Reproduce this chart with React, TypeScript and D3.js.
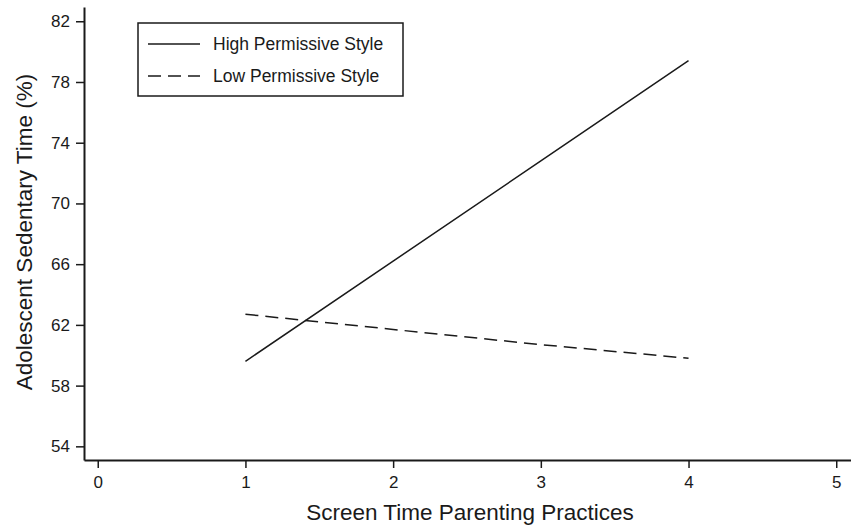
import { useEffect, useRef } from "react";
import * as d3 from "d3";

const xValues = [1, 2, 3, 4];
const highPermissive = [59.6, 66.2, 72.8, 79.4];
const lowPermissive = [62.7, 61.7, 60.7, 59.8];
const xTicks = [0, 1, 2, 3, 4, 5];
const yTicks = [54, 58, 62, 66, 70, 74, 78, 82];

const seriesList = [
  { label: "High Permissive Style", values: highPermissive, dash: null },
  { label: "Low Permissive Style", values: lowPermissive, dash: "13 7" },
];

const WIDTH = 851;
const HEIGHT = 529;
const FONT = "'Liberation Sans', Arial, sans-serif";
const INK = "#1a1a1a";

export default function App() {
  const svgRef = useRef<SVGSVGElement | null>(null);

  useEffect(() => {
    const svgElement = svgRef.current;
    if (!svgElement) return;

    const svg = d3.select(svgElement);
    svg.selectAll("*").remove();

    const margin = { top: 7, right: 0, bottom: 69, left: 84 };

    const x = d3
      .scaleLinear()
      .domain([-0.093, 5.1])
      .range([margin.left, WIDTH - margin.right]);

    const y = d3
      .scaleLinear()
      .domain([53.1, 82.94])
      .range([HEIGHT - margin.bottom, margin.top]);

    const xAxis = svg
      .append("g")
      .attr("transform", `translate(0,${HEIGHT - margin.bottom})`)
      .call(
        d3
          .axisBottom(x)
          .tickValues(xTicks)
          .tickFormat(d3.format("d"))
          .tickSize(8)
          .tickPadding(8)
          .tickSizeOuter(0)
      );

    const yAxis = svg
      .append("g")
      .attr("transform", `translate(${margin.left},0)`)
      .call(
        d3
          .axisLeft(y)
          .tickValues(yTicks)
          .tickFormat(d3.format("d"))
          .tickSize(8)
          .tickPadding(6)
          .tickSizeOuter(0)
      );

    [xAxis, yAxis].forEach((axis) => {
      axis.select(".domain").attr("stroke", INK).attr("stroke-width", 2);
      axis.selectAll(".tick line").attr("stroke", INK).attr("stroke-width", 1.5);
      axis
        .selectAll(".tick text")
        .attr("fill", INK)
        .attr("font-family", FONT)
        .attr("font-size", 17);
    });

    const line = d3
      .line<number>()
      .x((_, i) => x(xValues[i]))
      .y((d) => y(d));

    seriesList.forEach((serie) => {
      svg
        .append("path")
        .datum(serie.values)
        .attr("fill", "none")
        .attr("stroke", INK)
        .attr("stroke-width", 1.5)
        .attr("stroke-dasharray", serie.dash)
        .attr("d", line);
    });

    // legend
    const legend = svg.append("g").attr("transform", "translate(138,23)");
    legend
      .append("rect")
      .attr("width", 265)
      .attr("height", 73)
      .attr("fill", "white")
      .attr("stroke", INK)
      .attr("stroke-width", 1.5);

    seriesList.forEach((serie, i) => {
      const rowY = 21 + i * 32;
      legend
        .append("line")
        .attr("x1", 10)
        .attr("x2", 62)
        .attr("y1", rowY)
        .attr("y2", rowY)
        .attr("stroke", INK)
        .attr("stroke-width", 1.5)
        .attr("stroke-dasharray", serie.dash);
      legend
        .append("text")
        .attr("x", 75)
        .attr("y", rowY)
        .attr("dy", "0.35em")
        .attr("fill", INK)
        .attr("font-family", FONT)
        .attr("font-size", 17.5)
        .text(serie.label);
    });

    svg
      .append("text")
      .attr("x", 470)
      .attr("y", 520)
      .attr("text-anchor", "middle")
      .attr("fill", INK)
      .attr("font-family", FONT)
      .attr("font-size", 22.5)
      .text("Screen Time Parenting Practices");

    svg
      .append("text")
      .attr("transform", "translate(32,232) rotate(-90)")
      .attr("text-anchor", "middle")
      .attr("fill", INK)
      .attr("font-family", FONT)
      .attr("font-size", 22.5)
      .text("Adolescent Sedentary Time (%)");
  }, []);

  return (
    <svg
      ref={svgRef}
      width={WIDTH}
      height={HEIGHT}
      style={{ position: "absolute", left: 0, top: 0, background: "white" }}
    />
  );
}
